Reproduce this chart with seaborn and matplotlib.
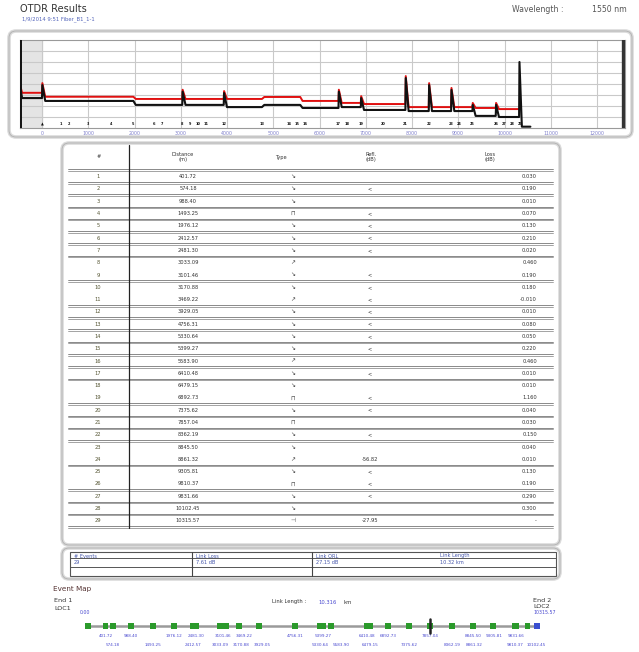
import matplotlib
matplotlib.use("Agg")
import matplotlib.pyplot as plt
from matplotlib.patches import FancyBboxPatch, Rectangle
import pandas as pd
import seaborn as sns

sns.set_style("white")
plt.rcParams['font.family'] = ['DejaVu Sans']

W, H = 639, 652

# ---------------- event table ----------------
event_no = list(range(1, 30))
distance_m = [401.72, 574.18, 988.40, 1493.25, 1976.12, 2412.57, 2481.30, 3033.09,
              3101.46, 3170.88, 3469.22, 3929.05, 4756.31, 5330.64, 5399.27, 5583.90,
              6410.48, 6479.15, 6892.73, 7375.62, 7857.04, 8362.19, 8845.50, 8861.32,
              9305.81, 9810.37, 9831.66, 10102.45, 10315.57]
event_type = ['loss', 'loss', 'loss', 'refl', 'loss', 'loss', 'loss', 'gain',
              'loss', 'loss', 'gain', 'loss', 'loss', 'loss', 'loss', 'gain',
              'loss', 'loss', 'refl', 'loss', 'refl', 'loss', 'loss', 'gain',
              'loss', 'refl', 'loss', 'loss', 'end']
refl_db = ['', '<', '', '<', '<', '<', '<', '', '<', '<', '<', '<', '<', '<', '<', '',
           '<', '', '<', '<', '', '<', '', '-56.82', '<', '<', '<', '', '-27.95']
loss_db = ['0.030', '0.190', '0.010', '0.070', '0.130', '0.210', '0.020', '0.460',
           '0.190', '0.180', '-0.010', '0.010', '0.080', '0.050', '0.220', '0.460',
           '0.010', '0.010', '1.160', '0.040', '0.030', '0.150', '0.040', '0.010',
           '0.130', '0.190', '0.290', '0.300', '-']
no_rule_after = [8, 10, 18, 23, 25]

# ---------------- summary ----------------
summary_labels = ['# Events', 'Link Loss', 'Link ORL', 'Link Length']
summary_values = ['29', '7.61 dB', '27.15 dB', '10.32 km']

# ---------------- trace (dB vs distance) ----------------
step_pos_m = [0, 1976.12, 3929.05, 4756.31, 5583.90, 6410.48, 6892.73, 7857.04, 9305.81, 9810.37]
red_level_db = [16.0, 14.2, 13.2, 13.2, 14.1, 12.3, 11.4, 10.9, 9.5, 9.1, 8.6]
black_level_db = [13.6, 12.3, 10.5, 9.5, 10.5, 9.1, 9.5, 8.2, 7.7, 5.5, 5.0]
spike_pos_m = [0, 3033.09, 3929.05, 6410.48, 6892.73, 7857.04, 8362.19, 8845.50, 9305.81, 9810.37]
spike_peak_db = [19.5, 16.5, 15.9, 16.5, 13.6, 22.7, 19.5, 17.3, 10.5, 10.5]
start_peak_db = [18.8, 17.9]
end_pos_m = 10315.57
end_peak_db = 30.0
noise_floor_db = 0.6
x_ticks_m = list(range(0, 13000, 1000))


def px_rect(x0, y0, x1, y1):
    return [x0 / W, 1 - y1 / H, (x1 - x0) / W, (y1 - y0) / H]


def spread(positions, min_gap):
    """Push label anchors apart so that neighbours keep at least min_gap."""
    out = []
    for p in positions:
        q = p if not out else max(p, out[-1] + min_gap)
        out.append(q)
    return out


def build_trace(levels, spike_offset, start_peak, with_end):
    xs, ys = [-465, -430], [start_peak, levels[0]]
    cur = levels[0]
    marks = sorted(set(step_pos_m) | set(spike_pos_m))
    for p in marks:
        new = levels[step_pos_m.index(p) + 1] if p in step_pos_m else cur
        if p in spike_pos_m:
            peak = spike_peak_db[spike_pos_m.index(p)] + spike_offset
            xs += [p, p + 8, p + 70]
            ys += [cur, peak, new]
        else:
            xs += [p, p + 50]
            ys += [cur, new]
        cur = new
    if with_end:
        xs += [end_pos_m, end_pos_m + 8, end_pos_m + 60, 10560]
        ys += [cur, end_peak_db, noise_floor_db, noise_floor_db]
    else:
        xs += [end_pos_m]
        ys += [cur]
    return pd.DataFrame({'dist': xs, 'db': ys})


fig = plt.figure(figsize=(W / 100, H / 100), dpi=100)

# page layer in pixel units
bg = fig.add_axes([0, 0, 1, 1])
bg.set_xlim(0, W)
bg.set_ylim(H, 0)
bg.axis('off')


def panel(x0, y0, x1, y1):
    bg.add_patch(FancyBboxPatch((x0, y0), x1 - x0, y1 - y0,
                                boxstyle="round,pad=0,rounding_size=7",
                                fc='white', ec='#dadada', lw=2.6))
    bg.add_patch(FancyBboxPatch((x0, y0), x1 - x0, y1 - y0,
                                boxstyle="round,pad=0,rounding_size=7",
                                fc='none', ec='#b4b4b4', lw=0.7))


panel(9, 31, 632, 137)
panel(62, 143, 560, 545)
panel(62, 548, 560, 579)

# header texts
bg.text(20, 9, 'OTDR Results', fontsize=7.0, color='#333333', va='center')
bg.text(22, 19, '1/9/2014 9:51 Fiber_B1_1-1', fontsize=3.8, color='#5566bb', va='center')
bg.text(512, 10, 'Wavelength :', fontsize=5.6, color='#555555', va='center')
bg.text(592, 10, '1550 nm', fontsize=5.6, color='#555555', va='center')

# ---------------- table ----------------
tc = '#333333'
fs = 3.7
bg.text(99, 157, '#', fontsize=fs, color=tc, ha='center', va='center')
bg.text(183, 157, 'Distance\n(m)', fontsize=fs, color=tc, ha='center', va='center', linespacing=1.1)
bg.text(281, 157, 'Type', fontsize=fs, color=tc, ha='center', va='center')
bg.text(371, 157, 'Refl.\n(dB)', fontsize=fs, color=tc, ha='center', va='center', linespacing=1.1)
bg.text(490, 157, 'Loss\n(dB)', fontsize=fs, color=tc, ha='center', va='center', linespacing=1.1)


def rule(y):
    bg.plot([68, 553], [y - 0.8, y - 0.8], color='#6a6a6a', lw=0.55)
    bg.plot([68, 553], [y + 0.8, y + 0.8], color='#8a8a8a', lw=0.55)


rule(170)
type_glyph = {'loss': '↘', 'gain': '↗', 'refl': '⊓', 'end': '⊣'}
row0, pitch = 176.7, 12.29
for i, n in enumerate(event_no):
    y = row0 + i * pitch
    bg.text(98, y, str(n), fontsize=fs, color='#555533', ha='center', va='center')
    bg.text(188, y, f'{distance_m[i]:.2f}', fontsize=fs, color=tc, ha='center', va='center')
    bg.text(293, y, type_glyph[event_type[i]], fontsize=4.2, color='#444444', ha='center', va='center')
    bg.text(370, y, refl_db[i], fontsize=fs, color=tc, ha='center', va='center')
    bg.text(537, y, loss_db[i], fontsize=fs, color=tc, ha='right', va='center')
    if n not in no_rule_after:
        rule(y + 6.1)
bg.plot([129, 129], [145, 528], color='#222222', lw=0.9)

# ---------------- summary ----------------
bg.add_patch(Rectangle((70, 551.5), 486, 24.5, fc='none', ec='#555555', lw=0.8))
bg.plot([70, 556], [557.8, 557.8], color='#555555', lw=0.7)
bg.plot([70, 556], [566.5, 566.5], color='#555555', lw=0.7)
for xv in (191.5, 312):
    bg.plot([xv, xv], [551.5, 576], color='#444444', lw=0.8)
for xl, lab, val in zip([74, 196, 316, 440], summary_labels, summary_values):
    bg.text(xl, 556, lab, fontsize=3.6, color='#4455aa', va='center')
    bg.text(xl, 562.3, val, fontsize=3.6, color='#4455aa', va='center')

# ---------------- event map text ----------------
bg.text(53, 589, 'Event Map', fontsize=5.2, color='#553333', va='center')
bg.text(54, 600, 'End 1', fontsize=4.6, color='#333333', va='center')
bg.text(54, 608, 'LOC1', fontsize=4.6, color='#333333', va='center')
bg.text(80, 613, '0.00', fontsize=3.4, color='#4a4ad0', va='center')
bg.text(533, 600, 'End 2', fontsize=4.6, color='#333333', va='center')
bg.text(533, 607, 'LOC2', fontsize=4.6, color='#333333', va='center')
bg.text(533, 613, f'{end_pos_m:.2f}', fontsize=3.4, color='#4a4ad0', va='center')
bg.text(272, 602, 'Link Length :', fontsize=3.8, color='#333333', va='center')
bg.text(318, 602, f'{end_pos_m / 1000:.3f}', fontsize=3.8, color='#4a4ad0', va='center')
bg.text(344, 602, 'km', fontsize=3.8, color='#333333', va='center')

# ---------------- trace plot ----------------
ax = fig.add_axes(px_rect(20, 40, 625, 128))
x_left = (20 - 42) / 46.25 * 1000
x_right = (625 - 42) / 46.25 * 1000
ax.set_xlim(x_left, x_right)
ax.set_ylim(0, 40)
ax.axvspan(x_left, 0, color='#e4e4e4', zorder=0)
for xt in x_ticks_m:
    ax.axvline(xt, color='#c9c9c9', lw=0.8, zorder=1)
for yt in range(5, 40, 5):
    ax.axhline(yt, color='#c9c9c9', lw=0.8, zorder=1)

red_df = build_trace(red_level_db, 0.9, start_peak_db[0], False)
black_df = build_trace(black_level_db, 0.0, start_peak_db[1], True)
sns.lineplot(data=red_df, x='dist', y='db', sort=False, estimator=None,
             color='#e01010', lw=1.4, ax=ax, zorder=3)
sns.lineplot(data=black_df, x='dist', y='db', sort=False, estimator=None,
             color='#111111', lw=1.5, ax=ax, zorder=4)
ax.axvline(-455, color='#111111', lw=1.4, zorder=5)
ax.axvline(12560, color='#333333', lw=2.4, zorder=5)

# event numbers along the bottom of the trace, nudged apart where events crowd
num_x = spread(distance_m, 175)
for n, d in zip(event_no, num_x):
    ax.text(d, 0.8, str(n), fontsize=2.5, color='#111111', ha='center', va='bottom',
            fontweight='bold', zorder=6)
ax.text(0, 0.8, '▲', fontsize=2.6, color='#111111', ha='center', va='bottom', zorder=6)

ax.set_xticks(x_ticks_m)
ax.set_xticklabels([str(t) for t in x_ticks_m])
ax.set_yticks([])
ax.tick_params(axis='x', length=0, pad=2, labelsize=3.4, labelcolor='#8080cc')
ax.set_xlabel('')
ax.set_ylabel('')
for s in ax.spines.values():
    s.set_color('#9a9a9a')
    s.set_linewidth(0.8)

# ---------------- event map ----------------
mx0 = (80 - 88) / (537 - 88) * end_pos_m
mx1 = (545 - 88) / (537 - 88) * end_pos_m
mp = fig.add_axes(px_rect(80, 614, 545, 651))
mp.set_xlim(mx0, mx1)
mp.set_ylim(651, 614)
mp.axis('off')
mp.plot([0, end_pos_m], [626, 626], color='#9a9a9a', lw=1.8, zorder=1)
map_df = pd.DataFrame({'dist': [0.0] + distance_m[:-1], 'y': [626] * len(distance_m)})
sns.scatterplot(data=map_df, x='dist', y='y', marker='s', s=14, color='#2b9a2b',
                edgecolor='none', ax=mp, zorder=3)
end_df = pd.DataFrame({'dist': [end_pos_m], 'y': [626]})
sns.scatterplot(data=end_df, x='dist', y='y', marker='s', s=18, color='#3a4fd0',
                edgecolor='none', ax=mp, zorder=3)
mp.plot([distance_m[20], distance_m[20]], [619, 633], color='#222222', lw=1.8, zorder=4)

# distance labels in two staggered rows, spaced so they never collide
label_gap = 21.0 / (537 - 88) * end_pos_m
inner = distance_m[:-1]
for row, y in ((0, 636), (1, 645)):
    idx = [i for i in range(len(inner)) if i % 2 == row]
    xs = spread([inner[i] for i in idx], label_gap)
    for i, xl in zip(idx, xs):
        mp.text(xl, y, f'{inner[i]:.2f}', fontsize=3.0, color='#4a4ad0',
                ha='center', va='center')
mp.set_xlabel('')
mp.set_ylabel('')

fig.savefig('out.png', dpi=100)
